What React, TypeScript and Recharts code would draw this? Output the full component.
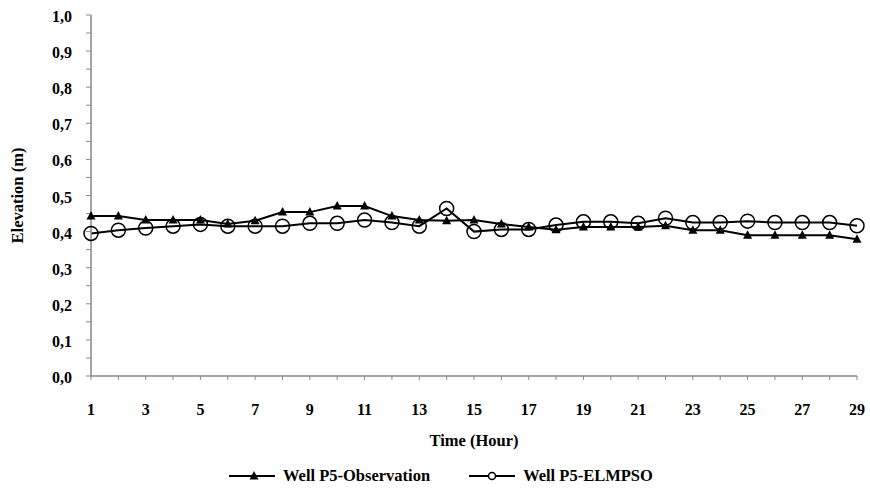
import { LineChart, Line, XAxis, YAxis, Legend, Label } from "recharts";

const hours = [
  "1", "2", "3", "4", "5", "6", "7", "8", "9", "10", "11", "12", "13", "14", "15",
  "16", "17", "18", "19", "20", "21", "22", "23", "24", "25", "26", "27", "28", "29",
];
const observation = [
  0.443, 0.443, 0.432, 0.432, 0.432, 0.421, 0.43, 0.454, 0.454, 0.471, 0.471, 0.443,
  0.432, 0.43, 0.432, 0.421, 0.413, 0.405, 0.413, 0.413, 0.413, 0.416, 0.404, 0.404,
  0.39, 0.39, 0.39, 0.39, 0.379,
];
const elmpso = [
  0.395, 0.404, 0.41, 0.415, 0.42, 0.415, 0.415, 0.415, 0.423, 0.423, 0.432, 0.425,
  0.415, 0.464, 0.4, 0.406, 0.406, 0.418, 0.427, 0.427, 0.423, 0.437, 0.425, 0.425,
  0.429, 0.425, 0.425, 0.425, 0.416,
];
const yTicks = [
  0, 0.05, 0.1, 0.15, 0.2, 0.25, 0.3, 0.35, 0.4, 0.45, 0.5, 0.55, 0.6, 0.65, 0.7,
  0.75, 0.8, 0.85, 0.9, 0.95, 1,
];

const data = hours.map((h, i) => ({
  hour: h,
  obs: observation[i],
  elm: elmpso[i],
}));

const FONT = "'Liberation Serif', 'Times New Roman', serif";
const AXIS = "#898989";

function Triangle(props: any) {
  const { cx, cy } = props;
  if (cx == null || cy == null) return null;
  return (
    <polygon
      points={`${cx},${cy - 5} ${cx - 4.5},${cy + 3.5} ${cx + 4.5},${cy + 3.5}`}
      fill="#000"
    />
  );
}

function YTick(props: any) {
  const { x, y, payload } = props;
  const v = payload.value;
  if (Math.round(v * 100) % 10 !== 0) return <g />;
  return (
    <text x={x - 12} y={y + 7} textAnchor="end" fontFamily={FONT} fontWeight="bold" fontSize={16} fill="#000">
      {v.toFixed(1).replace(".", ",")}
    </text>
  );
}

function XTick(props: any) {
  const { x, y, payload } = props;
  if (Number(payload.value) % 2 === 0) return <g />;
  return (
    <text x={x} y={y + 33} textAnchor="middle" fontFamily={FONT} fontWeight="bold" fontSize={16} fill="#000">
      {payload.value}
    </text>
  );
}

function LegendContent() {
  const textStyle = { fontFamily: FONT, fontWeight: "bold" as const, fontSize: 16.5, color: "#000" };
  return (
    <div style={{ display: "flex", alignItems: "center", height: 20, paddingLeft: 229 }}>
      <svg width={46} height={14}>
        <line x1={0} y1={7} x2={46} y2={7} stroke="#000" strokeWidth={2} />
        <polygon points="25,2 20.5,10.5 29.5,10.5" fill="#000" />
      </svg>
      <span style={{ ...textStyle, marginLeft: 8 }}>Well P5-Observation</span>
      <svg width={46} height={14} style={{ marginLeft: 39 }}>
        <line x1={0} y1={7} x2={46} y2={7} stroke="#000" strokeWidth={2} />
        <circle cx={23} cy={7} r={3.5} fill="#fff" stroke="#000" strokeWidth={1.5} />
      </svg>
      <span style={{ ...textStyle, marginLeft: 8 }}>Well P5-ELMPSO</span>
    </div>
  );
}

export default function App() {
  return (
    <div style={{ position: "absolute", left: 0, top: 0, background: "#fff" }}>
      <LineChart
        width={870}
        height={490}
        data={data}
        margin={{ top: 15, right: 13, bottom: 18, left: 0 }}
      >
        <XAxis
          dataKey="hour"
          interval={0}
          tick={<XTick />}
          tickSize={4}
          height={76}
          stroke={AXIS}
          tickLine={{ stroke: AXIS }}
          axisLine={{ stroke: AXIS, strokeWidth: 1.5 }}
        >
          <Label
            value="Time (Hour)"
            position="insideTop"
            offset={58}
            style={{ fontFamily: FONT, fontWeight: "bold", fontSize: 16.5, fill: "#000" }}
          />
        </XAxis>
        <YAxis
          type="number"
          domain={[0, 1]}
          ticks={yTicks}
          interval={0}
          width={91}
          tick={<YTick />}
          tickSize={5}
          tickLine={{ stroke: AXIS }}
          axisLine={{ stroke: AXIS, strokeWidth: 1.5 }}
        >
          <Label
            value="Elevation (m)"
            angle={-90}
            position="insideLeft"
            offset={11}
            dx={6}
            style={{ fontFamily: FONT, fontWeight: "bold", fontSize: 16.5, fill: "#000", textAnchor: "middle" }}
          />
        </YAxis>
        <Legend
          verticalAlign="bottom"
          align="left"
          content={<LegendContent />}
          wrapperStyle={{ bottom: 4, left: 0 }}
        />
        <Line
          dataKey="obs"
          name="Well P5-Observation"
          stroke="#000"
          strokeWidth={2}
          dot={<Triangle />}
          activeDot={false}
          isAnimationActive={false}
        />
        <Line
          dataKey="elm"
          name="Well P5-ELMPSO"
          stroke="#000"
          strokeWidth={2}
          dot={{ r: 7, fill: "none", stroke: "#000", strokeWidth: 1.5 }}
          activeDot={false}
          isAnimationActive={false}
        />
      </LineChart>
    </div>
  );
}
